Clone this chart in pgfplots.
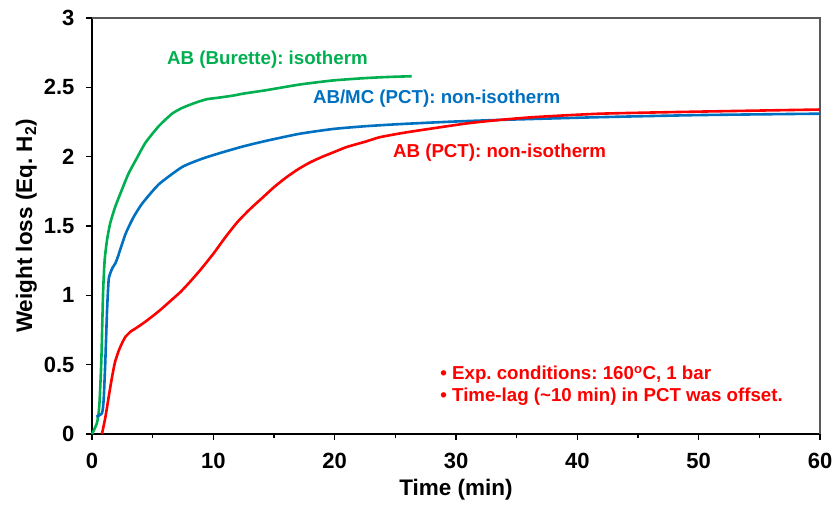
\documentclass[border=0pt]{standalone}
\usepackage{pgfplots}
\pgfplotsset{compat=1.18}
\usepackage{fontspec}
\setmainfont{Liberation Sans}
\definecolor{cgreen}{RGB}{0,176,80}
\definecolor{cblue}{RGB}{0,112,192}
\definecolor{cred}{RGB}{255,0,0}
\definecolor{cframe}{RGB}{89,89,89}
\frenchspacing
\begin{document}
\begin{tikzpicture}[x=1pt,y=1pt]
\useasboundingbox (-92,-70) rectangle (743,434);
\begin{axis}[
  at={(0,0)}, anchor=south west,
  scale only axis, width=728pt, height=416pt,
  xmin=0, xmax=60, ymin=0, ymax=3,
  axis x line*=bottom, axis y line*=left,
  axis line style={black, line width=2.2pt},
  xtick={0,10,...,60}, minor xtick={5,15,...,55},
  ytick={0,0.5,...,3},
  tick align=outside,
  major tick length=6pt, minor tick length=4pt,
  tick style={black, line width=1.2pt},
  /pgf/number format/assume math mode=true,
  ticklabel style={font=\fontsize{22}{24}\selectfont\bfseries},
  xticklabel style={yshift=-10pt},
  yticklabel style={xshift=-8pt},
  label style={font=\fontsize{22.5}{24}\selectfont\bfseries},
  xlabel={Time (min)},
  ylabel={Weight loss (Eq. H\textsubscript{2})},
  xlabel style={yshift=-3pt},
  ylabel style={yshift=0pt},
  clip=false,
]
\draw[cframe, line width=1.3pt] (rel axis cs:0,1) -- (rel axis cs:1,1) -- (rel axis cs:1,0);
% AB (Burette): isotherm
\addplot[cgreen, line width=2.6pt, line join=round, smooth, tension=0.35] coordinates {
(0,0) (0.41,0.08) (0.6,0.2) (0.77,0.53) (0.91,1.01) (1.04,1.25) (1.24,1.40)
(1.5,1.52) (1.92,1.64) (2.5,1.77) (3.02,1.88) (3.7,1.99) (4.4,2.10) (5.5,2.22)
(6.6,2.31) (7.4,2.35) (8.24,2.38) (8.9,2.40) (9.5,2.415) (10.4,2.425) (11.6,2.44)
(12.5,2.455) (14.4,2.48) (17.1,2.52) (19.9,2.55) (22.6,2.567) (24.5,2.575) (26.35,2.58)
};
% AB/MC (PCT): non-isotherm
\addplot[cblue, line width=2.6pt, line join=round, smooth, tension=0.35] coordinates {
(0.36,0.125) (0.82,0.15) (0.96,0.245) (1.1,0.53) (1.24,0.89) (1.37,1.11) (1.51,1.16)
(1.7,1.20) (1.92,1.23) (2.14,1.28) (2.75,1.44) (3.4,1.56) (4.12,1.66) (5.5,1.80)
(7.42,1.925) (9.07,1.985) (10.7,2.03) (12.5,2.075) (14.4,2.115) (17.1,2.165) (19.9,2.20)
(22.6,2.22) (25.4,2.235) (29.5,2.252) (33.6,2.265) (41.9,2.285) (50.1,2.30) (60,2.31)
};
% AB (PCT): non-isotherm
\addplot[cred, line width=2.6pt, line join=round, smooth, tension=0.35] coordinates {
(0.82,0) (1.1,0.12) (1.4,0.28) (1.65,0.41) (1.9,0.52) (2.2,0.6) (2.5,0.66) (2.75,0.70)
(3.2,0.74) (3.57,0.76) (4.4,0.81) (5.5,0.885) (6.6,0.97) (7.3,1.025) (8.0,1.09) (8.9,1.18)
(10.0,1.30) (11.0,1.42) (12.0,1.53) (13.0,1.62) (14.0,1.70) (15.0,1.78) (16.0,1.85)
(17.0,1.91) (18.0,1.96) (19.0,2.00) (20.0,2.035) (21.0,2.07) (22.6,2.11) (23.7,2.14)
(25.4,2.168) (27,2.19) (30.9,2.24) (33.6,2.265) (36.4,2.285) (41.9,2.31) (50.1,2.325) (60,2.34)
};
\node[anchor=west, inner sep=0pt, text=cgreen, font=\fontsize{18.7}{20}\selectfont\bfseries] at (axis cs:6.18,2.70) {AB (Burette): isotherm};
\node[anchor=west, inner sep=0pt, text=cblue, font=\fontsize{18.7}{20}\selectfont\bfseries] at (axis cs:18.2,2.415) {AB/MC (PCT): non-isotherm};
\node[anchor=west, inner sep=0pt, text=cred, font=\fontsize{18.7}{20}\selectfont\bfseries] at (axis cs:24.8,2.03) {AB (PCT): non-isotherm};
\node[anchor=west, inner sep=0pt, text=cred, font=\fontsize{18.7}{20}\selectfont\bfseries] at (axis cs:28.7,0.425) {• Exp. conditions: 160\textsuperscript{o}C, 1 bar};
\node[anchor=west, inner sep=0pt, text=cred, font=\fontsize{18.7}{20}\selectfont\bfseries] at (axis cs:28.7,0.267) {• Time-lag (\textasciitilde10 min) in PCT was offset.};
\end{axis}
\end{tikzpicture}
\end{document}
